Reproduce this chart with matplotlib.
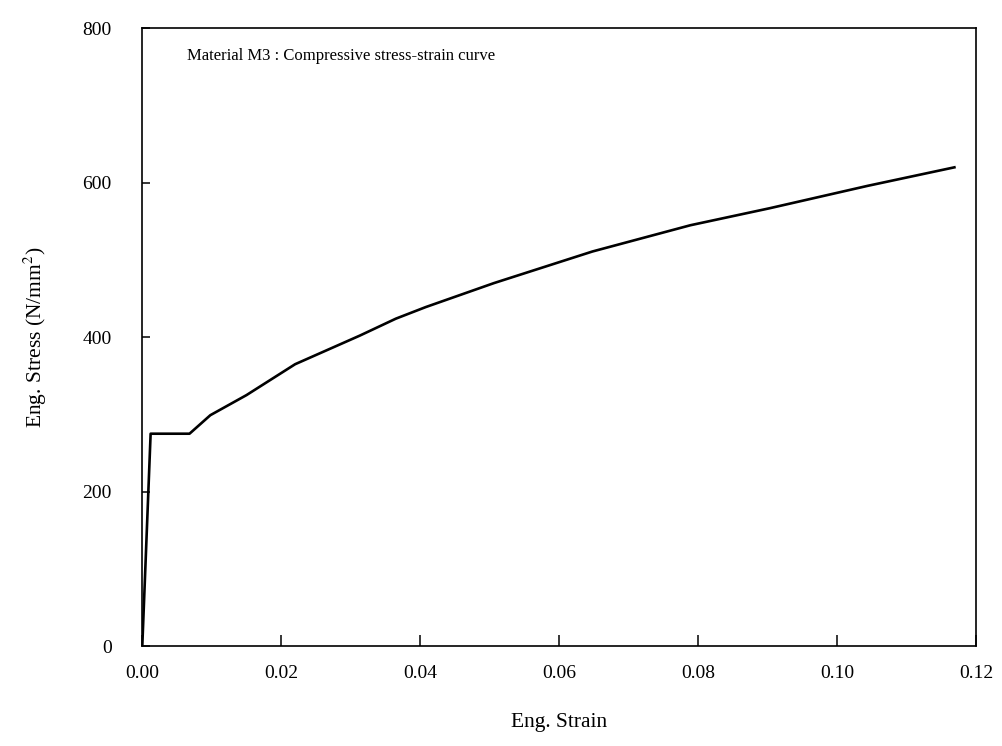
import numpy as np
import matplotlib
matplotlib.use("Agg")
import matplotlib.pyplot as plt

plt.rcParams["font.family"] = ["Liberation Serif", "DejaVu Serif"]
plt.rcParams["mathtext.fontset"] = "stix"

# data
strain = [0.0, 0.0012, 0.0068, 0.0098, 0.015, 0.022, 0.0313, 0.0365, 0.0408,
          0.0506, 0.0648, 0.0789, 0.0903, 0.1044, 0.1169]
stress = [0, 275, 275, 299, 325, 365, 402, 424, 439,
          470, 511, 545, 567, 596, 620]

x_ticks = [0.00, 0.02, 0.04, 0.06, 0.08, 0.10, 0.12]
y_ticks = [0, 200, 400, 600, 800]

fig = plt.figure(figsize=(10.02, 7.46), dpi=100)
ax = fig.add_axes([0.142, 0.134, 0.832, 0.828])

ax.plot(strain, stress, color="black", linewidth=1.9)

ax.set_xlim(0, 0.12)
ax.set_ylim(0, 800)
ax.set_xticks(x_ticks)
ax.set_xticklabels([f"{t:.2f}" for t in x_ticks])
ax.set_yticks(y_ticks)

ax.tick_params(axis="x", direction="in", length=8, width=1.1, pad=14, labelsize=14)
ax.tick_params(axis="y", direction="in", length=6, width=1.1, pad=22, labelsize=14)
ax.minorticks_off()
for s in ax.spines.values():
    s.set_linewidth(1.2)

ax.set_xlabel("Eng. Strain", fontsize=15.5, labelpad=22)
ax.set_ylabel("Eng. Stress (N/mm$^2$)", fontsize=15.5, labelpad=24)

ax.text(0.054, 0.955, "Material M3 : Compressive stress-strain curve",
        transform=ax.transAxes, fontsize=12, ha="left", va="center")

fig.savefig("out.png", dpi=100)
